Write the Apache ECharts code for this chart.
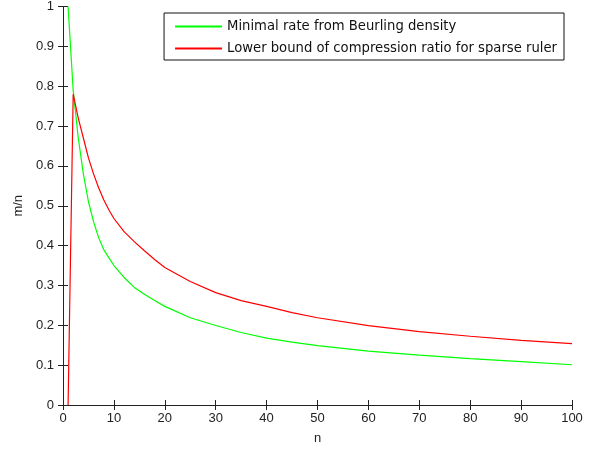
<!DOCTYPE html>
<html><head><meta charset="utf-8">
<script src="https://cdn.jsdelivr.net/npm/echarts@6/dist/echarts.min.js"></script>
<style>html,body{margin:0;padding:0;background:#fff}#c{width:601px;height:451px}</style>
</head><body><div id="c"></div>
<script>
var nValues = [1,2,3,4,5,6,7,8,9,10,12,14,16,18,20,25,30,35,40,45,50,60,70,80,90,100];
var beurling = [1.0,0.79,0.67,0.58,0.51,0.46,0.42,0.39,0.37,0.35,0.32,0.295,0.278,0.262,0.2475,0.219,0.1995,0.182,0.168,0.158,0.149,0.135,0.125,0.1165,0.109,0.101];
var sparseRuler = [0,0.78,0.72,0.67,0.62,0.58,0.545,0.515,0.49,0.468,0.435,0.41,0.387,0.365,0.345,0.31,0.282,0.262,0.2475,0.232,0.219,0.199,0.184,0.1725,0.162,0.154];
var xTicks = [0,10,20,30,40,50,60,70,80,90,100];
var yTicks = [0,0.1,0.2,0.3,0.4,0.5,0.6,0.7,0.8,0.9,1];
var seriesNames = ['Minimal rate from Beurling density','Lower bound of compression ratio for sparse ruler'];

function pairs(ys){return nValues.map(function(n,i){return [n,ys[i]];});}
var font = 'Liberation Sans, Arial, sans-serif';
var axisCommon = {
  axisLine:{show:true,lineStyle:{color:'#222',width:1}},
  axisTick:{show:true,inside:true,length:5,lineStyle:{color:'#222'}},
  splitLine:{show:false}
};
var chart = echarts.init(document.getElementById('c'));
chart.setOption({
  animation:false,
  backgroundColor:'#fff',
  grid:{left:63,right:29,top:5,bottom:46},
  legend:{
    orient:'vertical', right:37, top:13,
    backgroundColor:'#fff', borderColor:'#111', borderWidth:1,
    padding:[7,7,5,10], itemWidth:47, itemHeight:14, itemGap:9,
    itemStyle:{opacity:0},
    textStyle:{fontFamily:'DejaVu Sans, sans-serif',fontSize:13.2,color:'#111'},
    data:seriesNames
  },
  xAxis:[
    Object.assign({type:'value',min:xTicks[0],max:xTicks[xTicks.length-1],interval:10,
      name:'n',nameLocation:'middle',nameGap:27,
      nameTextStyle:{fontFamily:font,fontSize:13,color:'#222'},
      axisLabel:{fontFamily:font,fontSize:13,color:'#222',margin:7}},axisCommon),
    Object.assign({type:'value',position:'top',min:0,max:100,interval:10,
      axisLabel:{show:false}},axisCommon)
  ],
  yAxis:[
    Object.assign({type:'value',min:yTicks[0],max:yTicks[yTicks.length-1],interval:0.1,
      name:'m/n',nameLocation:'middle',nameGap:34,
      nameTextStyle:{fontFamily:font,fontSize:13,color:'#222'},
      axisLabel:{fontFamily:font,fontSize:13,color:'#222',margin:9,
        formatter:function(v){return String(+v.toFixed(1));}}},axisCommon),
    Object.assign({type:'value',position:'right',min:0,max:1,interval:0.1,
      axisLabel:{show:false}},axisCommon)
  ],
  series:[
    {name:seriesNames[0],type:'line',data:pairs(beurling),symbol:'none',smooth:false,
      lineStyle:{color:'#00ff00',width:1.2},itemStyle:{color:'#00ff00'}},
    {name:seriesNames[1],type:'line',data:pairs(sparseRuler),symbol:'none',smooth:false,
      lineStyle:{color:'#ff0000',width:1.2},itemStyle:{color:'#ff0000'}}
  ]
});
</script></body></html>
